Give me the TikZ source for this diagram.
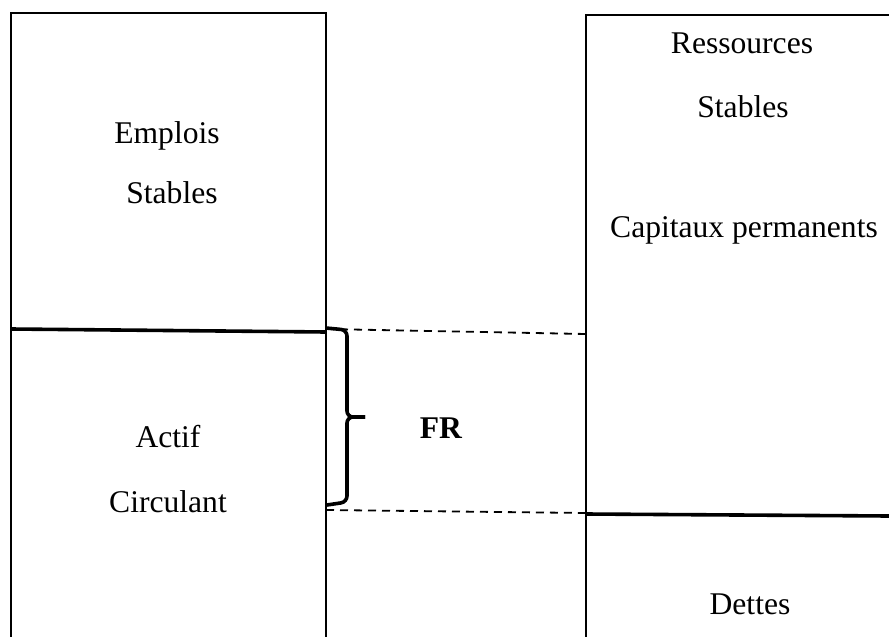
\documentclass[tikz,border=0pt]{standalone}
\usepackage{fontspec}
\setmainfont{Liberation Serif}
\tikzset{
  boxline/.style={line width=1.1pt},
  cutline/.style={line width=1.8pt},
  gapline/.style={line width=0.9pt,dash pattern=on 4pt off 3pt},
  lbl/.style={anchor=base,inner sep=0pt,font=\fontsize{15.8}{19}\selectfont}
}
\begin{document}
\begin{tikzpicture}[x=0.5pt,y=-0.5pt]
  \useasboundingbox (0,0) rectangle (889,637);
  \draw[boxline] (11,637) -- (11,13) -- (326,13) -- (326,637);
  \draw[boxline] (586,637) -- (586,15) -- (889,15);
  \draw[cutline] (11,329) -- (326,332);
  \draw[cutline] (586,514) -- (889,516);
  \draw[gapline] (326,329) -- (586,334);
  \draw[gapline] (326,510) -- (586,513);
  \draw[cutline,rounded corners=3pt] (326,328) -- (347,330) -- (347,417) -- (365,417);
  \draw[cutline,rounded corners=3pt] (365,417) -- (347,417) -- (347,502) -- (327,505);
  \node[lbl] (emplois) at (167,143) {Emplois};
  \node[lbl] (stablesL) at (172,203) {Stables};
  \node[lbl] (actif) at (168,447) {Actif};
  \node[lbl] (circulant) at (168,512) {Circulant};
  \node[lbl,font=\fontsize{15.8}{19}\selectfont\bfseries] (fr) at (441,438) {FR};
  \node[lbl] (ressources) at (742,54) {Ressources};
  \node[lbl] (stablesR) at (743,117) {Stables};
  \node[lbl] (capitaux) at (744,237) {Capitaux permanents};
  \node[lbl] (dettes) at (750,614) {Dettes};
\end{tikzpicture}
\end{document}
